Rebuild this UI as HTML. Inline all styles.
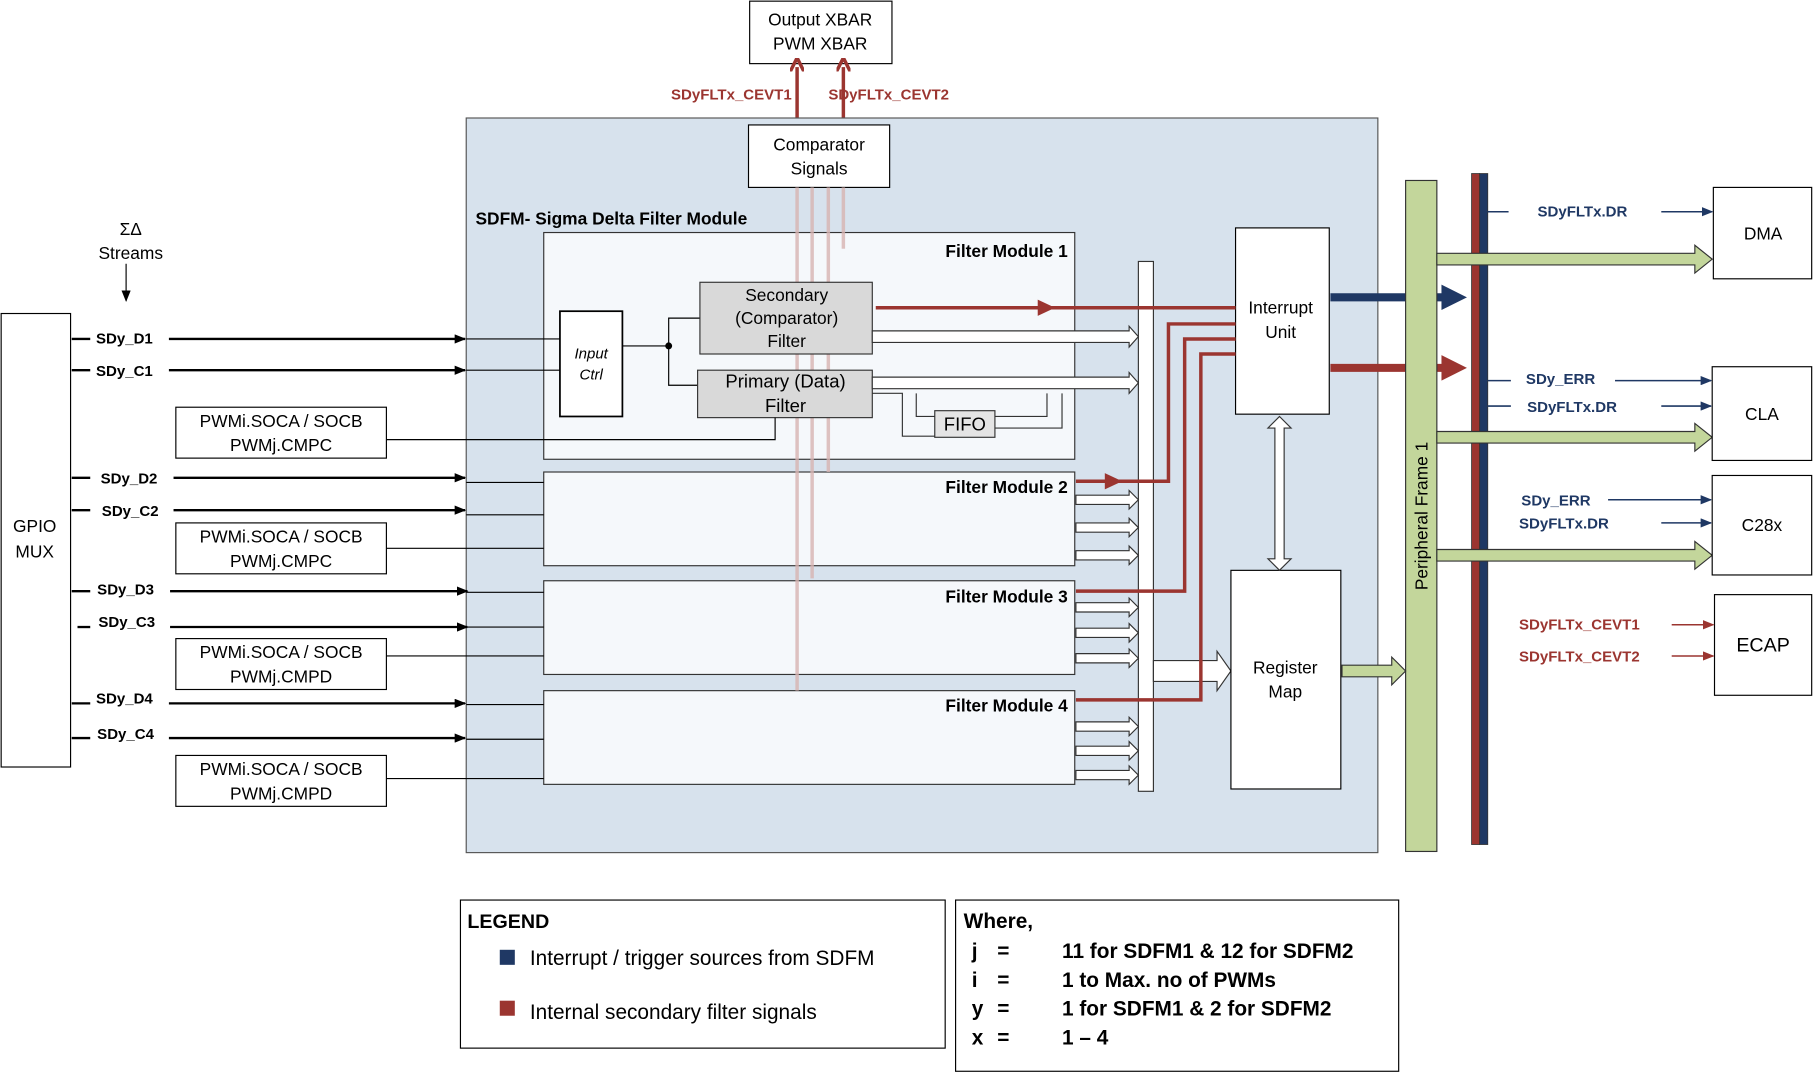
<!DOCTYPE html>
<html><head><meta charset="utf-8"><style>
html,body{margin:0;padding:0;background:#fff;}
svg{display:block;}
text{font-family:"Liberation Sans",sans-serif;}
</style></head><body>
<svg width="1814" height="1073" viewBox="0 0 1568 927.5" preserveAspectRatio="none" xmlns="http://www.w3.org/2000/svg">
<defs>
<marker id="ab" markerWidth="10" markerHeight="8" refX="9" refY="4" orient="auto" markerUnits="userSpaceOnUse"><path d="M0,0 L10,4 L0,8 z" fill="#000"/></marker>
<marker id="ar" markerWidth="10" markerHeight="8" refX="9" refY="4" orient="auto" markerUnits="userSpaceOnUse"><path d="M0,0 L10,4 L0,8 z" fill="#9b3530"/></marker>
<marker id="au" markerWidth="10" markerHeight="8" refX="9" refY="4" orient="auto" markerUnits="userSpaceOnUse"><path d="M0,0 L10,4 L0,8 z" fill="#1f3864"/></marker>
<marker id="ar2" markerWidth="12" markerHeight="12" refX="4" refY="6" orient="auto" markerUnits="userSpaceOnUse"><path d="M0,0 L12,6 L0,12" fill="none" stroke="#9b3530" stroke-width="3"/></marker>
</defs>
<!-- Output XBAR -->
<rect x="648" y="1" width="123" height="54" fill="#fff" stroke="#000"/>
<text x="709" y="22" font-size="15" text-anchor="middle">Output XBAR</text>
<text x="709" y="43" font-size="15" text-anchor="middle">PWM XBAR</text>
<line x1="689" y1="103" x2="689" y2="58" stroke="#9b3530" stroke-width="3" marker-end="url(#ar2)"/>
<line x1="729" y1="103" x2="729" y2="58" stroke="#9b3530" stroke-width="3" marker-end="url(#ar2)"/>
<text x="580" y="86" font-size="13" font-weight="bold" fill="#9b3530">SDyFLTx_CEVT1</text>
<text x="716" y="86" font-size="13" font-weight="bold" fill="#9b3530">SDyFLTx_CEVT2</text>
<!-- main panel -->
<rect x="403" y="102" width="788" height="635" fill="#d7e2ed" stroke="#555"/>
<rect x="647" y="108" width="122" height="54" fill="#fff" stroke="#000"/>
<text x="708" y="130" font-size="15" text-anchor="middle">Comparator</text>
<text x="708" y="151" font-size="15" text-anchor="middle">Signals</text>
<text x="411" y="194" font-size="15" font-weight="bold">SDFM- Sigma Delta Filter Module</text>
<!-- filter modules -->
<rect x="470" y="201" width="459" height="196" fill="#f5f8fb" stroke="#333"/>
<rect x="470" y="408" width="459" height="81" fill="#f5f8fb" stroke="#333"/>
<rect x="470" y="502" width="459" height="81" fill="#f5f8fb" stroke="#333"/>
<rect x="470" y="597" width="459" height="81" fill="#f5f8fb" stroke="#333"/>
<g font-size="15" font-weight="bold" text-anchor="end">
<text x="923" y="222">Filter Module 1</text>
<text x="923" y="426">Filter Module 2</text>
<text x="923" y="521">Filter Module 3</text>
<text x="923" y="615">Filter Module 4</text>
</g>
<!-- faded vertical lines -->
<g stroke="#d8b4b2" stroke-width="3" opacity="0.8">
<line x1="689" y1="162" x2="689" y2="597"/>
<line x1="702" y1="162" x2="702" y2="500"/>
<line x1="716" y1="162" x2="716" y2="408"/>
<line x1="729" y1="162" x2="729" y2="215"/>
</g>
<!-- input ctrl -->
<rect x="484" y="269" width="54" height="91" fill="#fff" stroke="#000" stroke-width="1.5"/>
<text x="511" y="310" font-size="13" font-style="italic" text-anchor="middle">Input</text>
<text x="511" y="328" font-size="13" font-style="italic" text-anchor="middle">Ctrl</text>
<polyline points="538,299 578,299" stroke="#000" fill="none"/>
<polyline points="605,275 578,275 578,333 603,333" stroke="#000" fill="none"/>
<circle cx="578" cy="299" r="3"/>
<rect x="605" y="244" width="149" height="62" fill="#d9d9d9" stroke="#333"/>
<text x="680" y="260" font-size="15" text-anchor="middle">Secondary</text>
<text x="680" y="280" font-size="15" text-anchor="middle">(Comparator)</text>
<text x="680" y="300" font-size="15" text-anchor="middle">Filter</text>
<rect x="603" y="320" width="151" height="41" fill="#d9d9d9" stroke="#333"/>
<text x="679" y="335" font-size="16" text-anchor="middle">Primary (Data)</text>
<text x="679" y="356" font-size="16" text-anchor="middle">Filter</text>
<polyline points="754,340 780,340 780,377 808,377" fill="none" stroke="#333"/>
<polyline points="792,340 792,360 808,360" fill="none" stroke="#333"/>
<polyline points="860,360 905,360 905,340" fill="none" stroke="#333"/>
<polyline points="860,370 918,370 918,340" fill="none" stroke="#333"/>
<rect x="808" y="355" width="52" height="23" fill="#e4e4e4" stroke="#333"/>
<text x="834" y="372" font-size="16" text-anchor="middle">FIFO</text>
<!-- bus -->
<rect x="984" y="226" width="13" height="458" fill="#fff" stroke="#333"/>
<g fill="#fff" stroke="#333">
<path d="M754,286 H976 V282 L984,291 L976,300 V296 H754 Z"/>
<path d="M754,326 H976 V322 L984,331 L976,340 V336 H754 Z"/>
<path d="M930,428 H976 V424 L984,432 L976,440 V436 H930 Z"/>
<path d="M930,452 H976 V448 L984,456 L976,464 V460 H930 Z"/>
<path d="M930,476 H976 V472 L984,480 L976,488 V484 H930 Z"/>
<path d="M930,521 H976 V517 L984,525 L976,533 V529 H930 Z"/>
<path d="M930,543 H976 V539 L984,547 L976,555 V551 H930 Z"/>
<path d="M930,565 H976 V561 L984,569 L976,577 V573 H930 Z"/>
<path d="M930,624 H976 V620 L984,628 L976,636 V632 H930 Z"/>
<path d="M930,645 H976 V641 L984,649 L976,657 V653 H930 Z"/>
<path d="M930,666 H976 V662 L984,670 L976,678 V674 H930 Z"/>
<path d="M997,571 H1052 V563 L1064,580 L1052,597 V589 H997 Z"/>
</g>
<!-- interrupt & register -->
<rect x="1068" y="197" width="81" height="161" fill="#fff" stroke="#000"/>
<text x="1107" y="271" font-size="15" text-anchor="middle">Interrupt</text>
<text x="1107" y="292" font-size="15" text-anchor="middle">Unit</text>
<rect x="1064" y="493" width="95" height="189" fill="#fff" stroke="#000"/>
<text x="1111" y="582" font-size="15" text-anchor="middle">Register</text>
<text x="1111" y="603" font-size="15" text-anchor="middle">Map</text>
<path d="M1106,360 L1116,370 H1110 V483 H1116 L1106,493 L1096,483 H1102 V370 H1096 Z" fill="#fff" stroke="#333"/>
<!-- red lines -->
<g stroke="#9b3530" stroke-width="3" fill="none">
<line x1="757" y1="266" x2="1068" y2="266"/>
<polyline points="930,416 1010,416 1010,280 1068,280"/>
<polyline points="930,511 1024,511 1024,293 1068,293"/>
<polyline points="930,605 1038,605 1038,306 1068,306"/>
</g>
<path d="M897,259 L912,266 L897,273 Z" fill="#9b3530"/>
<path d="M955,409 L970,416 L955,423 Z" fill="#9b3530"/>
<!-- thick arrows -->
<line x1="1150" y1="257" x2="1250" y2="257" stroke="#1f3864" stroke-width="7"/>
<path d="M1246,246 L1268,257 L1246,268 Z" fill="#1f3864"/>
<line x1="1150" y1="318" x2="1250" y2="318" stroke="#9b3530" stroke-width="7"/>
<path d="M1246,307 L1268,318 L1246,329 Z" fill="#9b3530"/>
<!-- peripheral frame -->
<rect x="1215" y="156" width="27" height="580" fill="#c3d69b" stroke="#333"/>
<text transform="translate(1234,446) rotate(-90)" font-size="15" text-anchor="middle">Peripheral Frame 1</text>
<rect x="1272" y="150" width="7" height="580" fill="#9b3530" stroke="#333" stroke-width="0.7"/>
<rect x="1279" y="150" width="7" height="580" fill="#1f3864" stroke="#333" stroke-width="0.7"/>
<!-- green arrows -->
<g fill="#c3d69b" stroke="#333">
<path d="M1242,219 H1465 V212 L1480,224 L1465,236 V229 H1242 Z"/>
<path d="M1242,373 H1465 V366 L1480,378 L1465,390 V383 H1242 Z"/>
<path d="M1242,475 H1465 V468 L1480,480 L1465,492 V485 H1242 Z"/>
<path d="M1160,575 H1203 V568 L1215,580 L1203,592 V585 H1160 Z"/>
</g>
<!-- right boxes -->
<g fill="#fff" stroke="#000">
<rect x="1481" y="162" width="85" height="79"/>
<rect x="1480" y="317" width="86" height="81"/>
<rect x="1480" y="411" width="86" height="86"/>
<rect x="1482" y="514" width="84" height="87"/>
</g>
<text x="1524" y="207" font-size="15" text-anchor="middle">DMA</text>
<text x="1523" y="363" font-size="15" text-anchor="middle">CLA</text>
<text x="1523" y="459" font-size="15" text-anchor="middle">C28x</text>
<text x="1524" y="563" font-size="17" text-anchor="middle">ECAP</text>
<g font-size="13" font-weight="bold" fill="#1f3864">
<text x="1329" y="187">SDyFLTx.DR</text>
<text x="1319" y="332">SDy_ERR</text>
<text x="1320" y="356">SDyFLTx.DR</text>
<text x="1315" y="437">SDy_ERR</text>
<text x="1313" y="457">SDyFLTx.DR</text>
</g>
<g stroke="#1f3864" stroke-width="1.3">
<line x1="1286" y1="183" x2="1304" y2="183"/>
<line x1="1436" y1="183" x2="1480" y2="183" marker-end="url(#au)"/>
<line x1="1286" y1="329" x2="1306" y2="329"/>
<line x1="1396" y1="329" x2="1479" y2="329" marker-end="url(#au)"/>
<line x1="1286" y1="351" x2="1306" y2="351"/>
<line x1="1436" y1="351" x2="1479" y2="351" marker-end="url(#au)"/>
<line x1="1390" y1="432" x2="1479" y2="432" marker-end="url(#au)"/>
<line x1="1436" y1="452" x2="1479" y2="452" marker-end="url(#au)"/>
</g>
<g font-size="13" font-weight="bold" fill="#9b3530">
<text x="1313" y="544">SDyFLTx_CEVT1</text>
<text x="1313" y="572">SDyFLTx_CEVT2</text>
</g>
<g stroke="#9b3530" stroke-width="1.3">
<line x1="1445" y1="540" x2="1481" y2="540" marker-end="url(#ar)"/>
<line x1="1445" y1="567" x2="1481" y2="567" marker-end="url(#ar)"/>
</g>
<!-- left side -->
<text x="113" y="203" font-size="15" text-anchor="middle">ΣΔ</text>
<text x="113" y="224" font-size="15" text-anchor="middle">Streams</text>
<line x1="109" y1="228" x2="109" y2="260" stroke="#000" marker-end="url(#ab)"/>
<rect x="1" y="271" width="60" height="392" fill="#fff" stroke="#000"/>
<text x="30" y="460" font-size="15" text-anchor="middle">GPIO</text>
<text x="30" y="482" font-size="15" text-anchor="middle">MUX</text>
<g font-size="13" font-weight="bold">
<text x="83" y="297">SDy_D1</text>
<text x="83" y="325">SDy_C1</text>
<text x="87" y="418">SDy_D2</text>
<text x="88" y="446">SDy_C2</text>
<text x="84" y="514">SDy_D3</text>
<text x="85" y="542">SDy_C3</text>
<text x="83" y="608">SDy_D4</text>
<text x="84" y="639">SDy_C4</text>
</g>
<g stroke="#000" stroke-width="2">
<line x1="62" y1="293" x2="78" y2="293"/><line x1="146" y1="293" x2="402" y2="293" marker-end="url(#ab)"/>
<line x1="62" y1="320" x2="78" y2="320"/><line x1="146" y1="320" x2="402" y2="320" marker-end="url(#ab)"/>
<line x1="62" y1="413" x2="78" y2="413"/><line x1="150" y1="413" x2="402" y2="413" marker-end="url(#ab)"/>
<line x1="62" y1="441" x2="78" y2="441"/><line x1="150" y1="441" x2="402" y2="441" marker-end="url(#ab)"/>
<line x1="62" y1="511" x2="78" y2="511"/><line x1="147" y1="511" x2="404" y2="511" marker-end="url(#ab)"/>
<line x1="67" y1="542" x2="78" y2="542"/><line x1="147" y1="542" x2="404" y2="542" marker-end="url(#ab)"/>
<line x1="62" y1="608" x2="78" y2="608"/><line x1="146" y1="608" x2="402" y2="608" marker-end="url(#ab)"/>
<line x1="62" y1="638" x2="78" y2="638"/><line x1="146" y1="638" x2="402" y2="638" marker-end="url(#ab)"/>
</g>
<g stroke="#000" stroke-width="1" fill="none">
<polyline points="403,293 484,293"/><polyline points="403,320 484,320"/>
<polyline points="403,417 470,417"/><polyline points="403,445 470,445"/>
<polyline points="403,512 470,512"/><polyline points="403,542 470,542"/>
<polyline points="403,609 470,609"/><polyline points="403,639 470,639"/>
<polyline points="334,380 670,380 670,361"/>
<polyline points="334,474 470,474"/>
<polyline points="334,567 470,567"/>
<polyline points="334,673 470,673"/>
</g>
<g fill="#fff" stroke="#000">
<rect x="152" y="352" width="182" height="44"/>
<rect x="152" y="452" width="182" height="44"/>
<rect x="152" y="552" width="182" height="44"/>
<rect x="152" y="653" width="182" height="44"/>
</g>
<g font-size="15" text-anchor="middle">
<text x="243" y="369">PWMi.SOCA / SOCB</text><text x="243" y="390">PWMj.CMPC</text>
<text x="243" y="469">PWMi.SOCA / SOCB</text><text x="243" y="490">PWMj.CMPC</text>
<text x="243" y="569">PWMi.SOCA / SOCB</text><text x="243" y="590">PWMj.CMPD</text>
<text x="243" y="670">PWMi.SOCA / SOCB</text><text x="243" y="691">PWMj.CMPD</text>
</g>
<!-- legends -->
<rect x="398" y="778" width="419" height="128" fill="#fff" stroke="#000"/>
<text x="404" y="802" font-size="17" font-weight="bold">LEGEND</text>
<rect x="432" y="821" width="13" height="13" fill="#1f3864"/>
<text x="458" y="834" font-size="18">Interrupt / trigger sources from SDFM</text>
<rect x="432" y="865" width="13" height="13" fill="#9b3530"/>
<text x="458" y="881" font-size="18">Internal secondary filter signals</text>
<rect x="826" y="778" width="383" height="148" fill="#fff" stroke="#000"/>
<g font-size="18" font-weight="bold">
<text x="833" y="802">Where,</text>
<text x="840" y="828">j</text><text x="862" y="828">=</text><text x="918" y="828">11 for SDFM1 &amp; 12 for SDFM2</text>
<text x="840" y="853">i</text><text x="862" y="853">=</text><text x="918" y="853">1 to Max. no of PWMs</text>
<text x="840" y="878">y</text><text x="862" y="878">=</text><text x="918" y="878">1 for SDFM1 &amp; 2 for SDFM2</text>
<text x="840" y="903">x</text><text x="862" y="903">=</text><text x="918" y="903">1 – 4</text>
</g>
</svg>
</body></html>
